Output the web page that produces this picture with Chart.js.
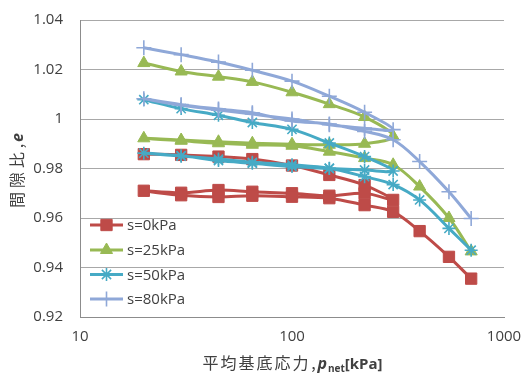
<!DOCTYPE html>
<html><head><meta charset="utf-8">
<script src="https://cdn.jsdelivr.net/npm/chart.js@4/dist/chart.umd.min.js"></script>
<style>html,body{margin:0;padding:0;background:#fff}</style>
</head><body>
<canvas id="c" width="523" height="375"></canvas>
<script>
// ---- data ----
const seriesNames = ['s=0kPa', 's=25kPa', 's=50kPa', 's=80kPa'];
// loading path, unloading path, reloading path (net stress, kPa)
const xLoad = [20, 30, 45, 65, 100, 150, 220, 300];
const xUnload = [220, 150, 100, 65, 45, 30, 20];
const xReload = [30, 45, 65, 100, 150, 220, 300, 400, 550, 700];

const e_s0_load = [0.9858, 0.9855, 0.9848, 0.9838, 0.9812, 0.9774, 0.9733, 0.9673];
const e_s0_unload = [0.9700, 0.9690, 0.9700, 0.9706, 0.9713, 0.9702, 0.9710];
const e_s0_reload = [0.9692, 0.9685, 0.9690, 0.9686, 0.9680, 0.9652, 0.9625, 0.9547, 0.9443, 0.9355];

const e_s25_load = [1.0226, 1.0192, 1.0171, 1.0150, 1.0108, 1.0060, 1.0008, 0.9930];
const e_s25_unload = [0.9900, 0.9896, 0.9898, 0.9902, 0.9908, 0.9915, 0.9922];
const e_s25_reload = [0.9912, 0.9902, 0.9896, 0.9892, 0.9868, 0.9842, 0.9815, 0.9727, 0.9600, 0.9465];

const e_s50_load = [1.0078, 1.0042, 1.0015, 0.9986, 0.9958, 0.9903, 0.9848, 0.9790];
const e_s50_unload = [0.9794, 0.9800, 0.9808, 0.9821, 0.9832, 0.9852, 0.9862];
const e_s50_reload = [0.9850, 0.9838, 0.9825, 0.9815, 0.9801, 0.9767, 0.9735, 0.9673, 0.9558, 0.9470];

const e_s80_load = [1.0288, 1.0260, 1.0230, 1.0197, 1.0153, 1.0092, 1.0027, 0.9957];
const e_s80_unload = [0.9963, 0.9977, 1.0000, 1.0020, 1.0036, 1.0056, 1.0082];
const e_s80_reload = [1.0058, 1.0040, 1.0025, 0.9992, 0.9980, 0.9950, 0.9916, 0.9828, 0.9706, 0.9598];

const yTickValues = [0.92, 0.94, 0.96, 0.98, 1.00, 1.02, 1.04];
const xTickValues = [10, 100, 1000];

// ---- styling ----
const colors = ['#BE4B48', '#98B954', '#46AAC5', '#8FA8D8'];
const pStyles = ['rect', 'triangle', 'star', 'cross'];
const pRadius = [8, 7, 6.5, 7.5];
const pBorder = [1, 1, 1.6, 1.6];

const xPath = [...xLoad, ...xUnload, ...xReload];
const yPaths = [
  [...e_s0_load, ...e_s0_unload, ...e_s0_reload],
  [...e_s25_load, ...e_s25_unload, ...e_s25_reload],
  [...e_s50_load, ...e_s50_unload, ...e_s50_reload],
  [...e_s80_load, ...e_s80_unload, ...e_s80_reload]
];

const datasets = seriesNames.map((name, i) => ({
  label: name,
  data: xPath.map((x, k) => ({ x: x, y: yPaths[i][k] })),
  showLine: true,
  borderColor: colors[i],
  backgroundColor: colors[i],
  borderWidth: 3,
  tension: 0.35,
  pointStyle: pStyles[i],
  pointRadius: pRadius[i],
  pointBorderWidth: pBorder[i],
  pointBackgroundColor: colors[i],
  pointBorderColor: colors[i],
  order: 4 - i
}));

const TICK_FONT = { family: "'Open Sans', sans-serif", size: 15 };
const TEXT_COLOR = '#404040';

const customPlugin = {
  id: 'custom',
  afterDraw(chart) {
    const ctx = chart.ctx;
    const area = chart.chartArea;
    ctx.save();
    // legend
    const ly = [225, 250, 274.5, 299];
    chart.data.datasets.forEach((ds, i) => {
      const y = ly[i];
      ctx.strokeStyle = ds.borderColor;
      ctx.lineWidth = 3;
      ctx.beginPath(); ctx.moveTo(90, y); ctx.lineTo(123, y); ctx.stroke();
      ctx.fillStyle = ds.backgroundColor;
      ctx.strokeStyle = ds.borderColor;
      ctx.lineWidth = ds.pointBorderWidth;
      Chart.helpers.drawPoint(ctx, { pointStyle: ds.pointStyle, radius: ds.pointRadius, borderWidth: ds.pointBorderWidth, rotation: 0 }, 106.5, y);
      ctx.fillStyle = TEXT_COLOR;
      ctx.font = "15px 'Open Sans', sans-serif";
      ctx.textAlign = 'left'; ctx.textBaseline = 'middle';
      ctx.fillText(ds.label, 127, y + 1);
    });

    const cjk = "16px 'Noto Sans CJK JP', sans-serif";
    ctx.textBaseline = 'alphabetic';
    ctx.fillStyle = TEXT_COLOR;
    function drawTitle(parts, cx, baseY, rotate) {
      let total = 0;
      parts.forEach(p => { ctx.font = p.font; p.w = p.adv != null ? p.adv : ctx.measureText(p.t).width; total += p.w + (p.gap || 0); });
      ctx.save();
      if (rotate) { ctx.translate(baseY, cx); ctx.rotate(-Math.PI / 2); ctx.translate(-total / 2, 0); }
      else { ctx.translate(cx - total / 2, baseY); }
      let x = 0;
      parts.forEach(p => {
        ctx.font = p.font; ctx.textAlign = 'left';
        ctx.fillText(p.t, x + (p.adv != null ? (p.adv - ctx.measureText(p.t).width) / 2 : 0), p.dy || 0);
        x += p.w + (p.gap || 0);
      });
      ctx.restore();
    }
    // x axis title
    const xParts = [];
    for (const ch of '平均基底応力') xParts.push({ t: ch, font: cjk, adv: 18 });
    xParts.push({ t: ',', font: cjk, adv: 8 });
    xParts.push({ t: 'p', font: "italic bold 16px 'Open Sans', sans-serif", gap: 1 });
    xParts.push({ t: 'net', font: "bold 10px 'Open Sans', sans-serif", dy: 3 });
    xParts.push({ t: '[kPa]', font: "bold 15px 'Open Sans', sans-serif" });
    drawTitle(xParts, (area.left + area.right) / 2, 369, false);

    // y axis title
    const yParts = [];
    for (const ch of '間隙比') yParts.push({ t: ch, font: cjk, adv: 20 });
    yParts.push({ t: ',', font: cjk, adv: 8 });
    yParts.push({ t: 'e', font: "italic bold 16px 'Open Sans', sans-serif" });
    drawTitle(yParts, (area.top + area.bottom) / 2 + 3, 23, true);
    ctx.restore();
  }
};

new Chart(document.getElementById('c'), {
  type: 'scatter',
  data: { datasets: datasets },
  options: {
    responsive: false,
    animation: false,
    events: [],
    layout: { padding: { top: 20, right: 19, left: 0, bottom: 0 } },
    plugins: { legend: { display: false }, tooltip: { enabled: false } },
    scales: {
      x: {
        type: 'logarithmic',
        min: 10, max: 1000,
        afterBuildTicks: s => { s.ticks = xTickValues.map(v => ({ value: v, major: true })); },
        afterFit: s => { s.height = 58; s.paddingLeft = 0; s.paddingRight = 0; s.paddingTop = 0; s.paddingBottom = 0; },
        grid: { display: false, drawTicks: false },
        border: { display: true, color: '#8C8C8C', width: 1 },
        ticks: { font: TICK_FONT, color: TEXT_COLOR, padding: 11, maxRotation: 0, autoSkip: false, callback: v => String(v) }
      },
      y: {
        min: 0.92, max: 1.04,
        afterBuildTicks: s => { s.ticks = yTickValues.map(v => ({ value: v })); },
        afterFit: s => { s.width = 80; s.paddingLeft = 0; s.paddingRight = 0; s.paddingTop = 0; s.paddingBottom = 0; },
        grid: { color: '#A8A8A8', lineWidth: 1, drawTicks: false },
        border: { display: true, color: '#8C8C8C', width: 1 },
        ticks: { font: TICK_FONT, color: TEXT_COLOR, padding: 17, callback: v => String(Number(v.toFixed(2))) }
      }
    }
  },
  plugins: [customPlugin]
});
</script>
</body></html>
